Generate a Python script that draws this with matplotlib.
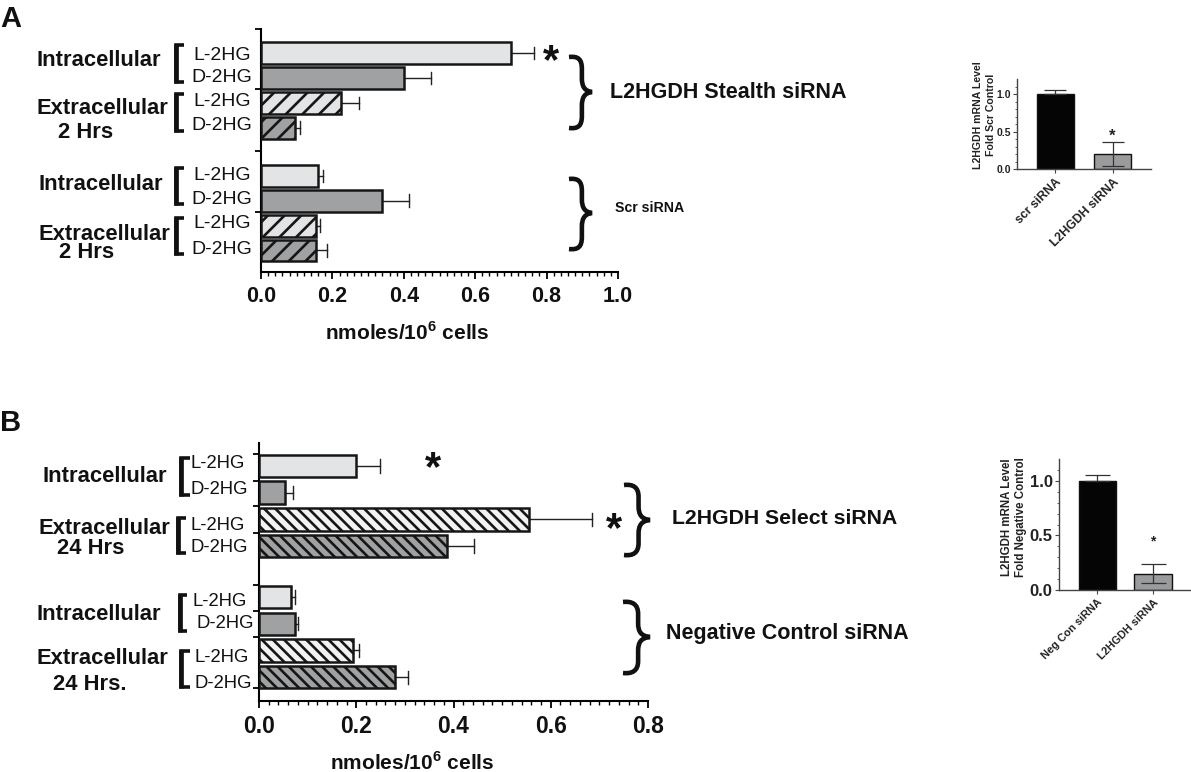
import numpy as np
import matplotlib
matplotlib.use('Agg')
import matplotlib.pyplot as plt
from matplotlib.path import Path
from matplotlib.patches import PathPatch
from matplotlib.ticker import FormatStrFormatter

plt.rcParams['font.family'] = ['Liberation Sans', 'DejaVu Sans']
plt.rcParams['mathtext.fontset'] = 'custom'
plt.rcParams['mathtext.bf'] = 'Liberation Sans:bold'
plt.rcParams['mathtext.rm'] = 'Liberation Sans:bold'
plt.rcParams['hatch.linewidth'] = 1.9

W, H = 1191, 772

# Data
a_vals = [0.70, 0.40, 0.225, 0.095, 0.16, 0.34, 0.155, 0.155]
a_tops = [0.765, 0.475, 0.275, 0.11, 0.175, 0.415, 0.165, 0.185]
b_vals = [0.20, 0.054, 0.556, 0.386, 0.065, 0.075, 0.194, 0.279]
b_tops = [0.249, 0.07, 0.685, 0.443, 0.074, 0.08, 0.206, 0.306]
inset_a_names = ['scr siRNA', 'L2HGDH siRNA']
inset_a_vals = [1.0, 0.20]
inset_a_err_up = [0.05, 0.16]
inset_a_err_low = [0.0, 0.16]
inset_b_names = ['Neg Con siRNA', 'L2HGDH siRNA']
inset_b_vals = [1.0, 0.15]
inset_b_err_up = [0.055, 0.09]
inset_b_err_low = [0.0, 0.09]

LIGHT, DARK = '#e3e4e5', '#a0a1a3'
fig = plt.figure(figsize=(W / 100, H / 100), dpi=100)


def px_axes(l, r, t, b):
    return fig.add_axes([l / W, 1 - b / H, (r - l) / W, (b - t) / H])


def main_panel(box, vals, tops, xmax, hatch, hatch_light, slot_px, first_px, gap, height, yticks_px, labsize):
    l, r, t, b = box
    ax = px_axes(l, r, t, b)
    ax.patch.set_alpha(0)
    pos = np.arange(8, dtype=float)
    pos[4:] += gap
    for i, (y, v, e) in enumerate(zip(pos, vals, tops)):
        fill = DARK if i % 2 else LIGHT
        hatched = i in (2, 3, 6, 7)
        if hatched and not i % 2:
            fill = hatch_light
        ax.barh(y, v, height=height, color=fill, edgecolor='#161616', linewidth=1.8,
                hatch=hatch if hatched else None, zorder=3)
        ax.plot([v, e], [y, y], color='#222222', lw=1.0, zorder=2)
        ax.plot([e, e], [y - 0.25, y + 0.25], color='#222222', lw=1.0, zorder=2)
    ax.set_xlim(0, xmax)
    ax.set_ylim((b - first_px) / slot_px, (t - first_px) / slot_px)
    ax.set_xticks(np.arange(0, xmax + 1e-6, 0.2))
    ax.set_xticks(np.arange(0, xmax + 1e-6, 0.02), minor=True)
    ax.set_yticks([(p - first_px) / slot_px for p in yticks_px])
    ax.set_yticklabels([])
    ax.xaxis.set_major_formatter(FormatStrFormatter('%.1f'))
    ax.tick_params(axis='x', which='major', length=5, width=1.3, labelsize=labsize, pad=5)
    ax.tick_params(axis='x', which='minor', length=3, width=1.0)
    ax.tick_params(axis='y', length=4, width=1.3)
    for lab in ax.get_xticklabels():
        lab.set_fontweight('bold')
        lab.set_color('#111111')
    for s in ('top', 'right'):
        ax.spines[s].set_visible(False)
    for s in ('left', 'bottom'):
        ax.spines[s].set_linewidth(1.5)
    return ax


main_panel((261, 618, 29, 272), a_vals, a_tops, 1.0, '//', LIGHT, 24.9, 53, 0.93, 0.88,
           [29, 89, 151, 212], 15.5)
main_panel((259, 648, 443, 701), b_vals, b_tops, 0.8, '\\\\\\', '#f2f2f2', 26.7, 466, 0.91, 0.84,
           [454, 481, 506, 533, 585, 611, 637, 688], 16.5)


def inset(box, names, vals, up, low, ticksize, labsize, xlim, width, star_y, star_size, cap):
    l, r, t, b = box
    ax = px_axes(l, r, t, b)
    ax.patch.set_alpha(0)
    x = np.arange(2)
    ax.bar(x, vals, width=width, color=['#050505', '#9a9b9d'], edgecolor='#111111', linewidth=1.0, zorder=2)
    ax.errorbar(x, vals, yerr=[low, up], fmt='none', ecolor='#333333', elinewidth=0.9,
                capsize=cap, capthick=0.9, zorder=3)
    ax.set_xlim(*xlim)
    ax.set_ylim(0, 1.2)
    ax.set_xticks(x)
    ax.set_xticklabels(names, rotation=45, ha='right', rotation_mode='anchor',
                       fontsize=labsize, fontweight='bold', color='#222222')
    ax.set_yticks([0, 0.5, 1.0])
    ax.set_yticks(np.arange(0, 1.2, 0.1), minor=True)
    ax.set_yticklabels(['0.0', '0.5', '1.0'], fontsize=ticksize, fontweight='bold', color='#222222')
    ax.tick_params(axis='y', which='major', length=3, width=0.8, pad=1.5, color='#444444')
    ax.tick_params(axis='y', which='minor', length=1.5, width=0.6, color='#444444')
    ax.tick_params(axis='x', length=3, width=0.8, pad=2, color='#444444')
    for s in ('top', 'right'):
        ax.spines[s].set_visible(False)
    for s in ('left', 'bottom'):
        ax.spines[s].set_linewidth(1.0)
        ax.spines[s].set_color('#444444')
    ax.text(1, star_y, '*', ha='center', va='center', fontsize=star_size, fontweight='bold', color='#222222')
    return ax


inset((1017, 1151, 79, 169), inset_a_names, inset_a_vals, inset_a_err_up, inset_a_err_low,
      7.5, 8.8, (-0.675, 1.675), 0.66, 0.44, 12, 8)
inset((1059, 1190, 459, 590), inset_b_names, inset_b_vals, inset_b_err_up, inset_b_err_low,
      12, 7.8, (-0.688, 1.664), 0.67, 0.44, 10, 9)

# Overlay in pixel space for annotations
ov = fig.add_axes([0, 0, 1, 1], zorder=5)
ov.set_xlim(0, W)
ov.set_ylim(H, 0)
ov.axis('off')


def T(x, y, s, size=15, weight='bold', ha='left', **kw):
    ov.text(x, y, s, fontsize=size, fontweight=weight, ha=ha, va='center', color='#111111', **kw)


T(0, 19, 'A', 21)
T(0, 423, 'B', 21)

bold_labels = [
    (36, 60, 'Intracellular'), (36, 109, 'Extracellular'), (58, 133, '2 Hrs'),
    (38, 185, 'Intracellular'), (38, 234, 'Extracellular'), (59, 253, '2 Hrs'),
    (42, 477, 'Intracellular'), (39, 528, 'Extracellular'), (57, 549, '24 Hrs'),
    (37, 614, 'Intracellular'), (36, 659, 'Extracellular'), (53, 684, '24 Hrs.'),
]
for x, y, s in bold_labels:
    T(x, y, s, 15.8)

thin_labels_a = [
    (193, 55, 'L-2HG'), (191, 77, 'D-2HG'), (193, 101, 'L-2HG'), (191, 126, 'D-2HG'),
    (193, 176, 'L-2HG'), (191, 200, 'D-2HG'), (193, 224, 'L-2HG'), (191, 249, 'D-2HG'),
]
thin_labels_b = [
    (191, 463, 'L-2HG'), (191, 490, 'D-2HG'), (190, 526, 'L-2HG'), (190, 547, 'D-2HG'),
    (193, 601, 'L-2HG'), (197, 623, 'D-2HG'), (195, 658, 'L-2HG'), (194, 684, 'D-2HG'),
]
for x, y, s in thin_labels_a:
    T(x, y, s, 14, weight='normal')
for x, y, s in thin_labels_b:
    T(x, y, s, 13.3, weight='normal')

T(610, 93, 'L2HGDH Stealth siRNA', 15.5)
T(615, 208, 'Scr siRNA', 10.2)
T(672, 519, 'L2HGDH Select siRNA', 15.3)
T(666, 633, 'Negative Control siRNA', 15.5)
T(407, 332, r'nmoles/10$^{\mathbf{6}}$ cells', 15, ha='center')
T(412, 763, r'nmoles/10$^{\mathbf{6}}$ cells', 15, ha='center')

T(551, 62, '*', 30, ha='center')
T(433, 469, '*', 30, ha='center')
T(614, 530, '*', 30, ha='center')


def brace(x0, x1, y0, y1, ymid):
    xm = x0 + (x1 - x0) * 0.56
    verts = [(x0, y0 + 2), (x0 + 9, y0 + 1), (xm, y0 + 4), (xm, y0 + 14),
             (xm, ymid - 14),
             (xm, ymid - 5), (xm + 3, ymid - 1), (x1, ymid),
             (xm + 3, ymid + 1), (xm, ymid + 5), (xm, ymid + 14),
             (xm, y1 - 14),
             (xm, y1 - 4), (x0 + 9, y1 - 1), (x0, y1 - 2)]
    codes = [Path.MOVETO, Path.CURVE4, Path.CURVE4, Path.CURVE4,
             Path.LINETO,
             Path.CURVE4, Path.CURVE4, Path.CURVE4,
             Path.CURVE4, Path.CURVE4, Path.CURVE4,
             Path.LINETO,
             Path.CURVE4, Path.CURVE4, Path.CURVE4]
    ov.add_patch(PathPatch(Path(verts, codes), fc='none', ec='#111111', lw=3.3,
                           capstyle='butt', joinstyle='miter'))


brace(569, 592, 55, 130, 92)
brace(569, 592, 177, 251, 213)
brace(624, 650, 483, 557, 520)
brace(623, 650, 600, 675, 637)

brackets = [(174, 184, 44, 83), (174, 184, 93, 132), (174, 184, 167, 205), (174, 184, 217, 255),
            (179, 190, 457, 496), (176, 186, 517, 554), (178, 187, 594, 632), (179, 190, 650, 688)]
for x0, x1, y0, y1 in brackets:
    ov.plot([x1, x0 + 1.5, x0 + 1.5, x1], [y0 + 1, y0 + 1, y1 - 1, y1 - 1], color='#111111', lw=2.6,
            solid_joinstyle='miter', solid_capstyle='butt')
    ov.plot([x0 + 2, x0 + 2], [y0, y1], color='#111111', lw=3.4, solid_capstyle='butt')

# Inset y-labels
for x, y, s, fs in [(978, 115, 'L2HGDH mRNA Level', 7.6), (991, 115, 'Fold Scr Control', 7.6),
                    (1007, 517, 'L2HGDH mRNA Level', 8.3), (1021, 517, 'Fold Negative Control', 8.3)]:
    ov.text(x, y, s, fontsize=fs, fontweight='bold', rotation=90, ha='center', va='center', color='#222222')

fig.savefig('out.png', dpi=100)
